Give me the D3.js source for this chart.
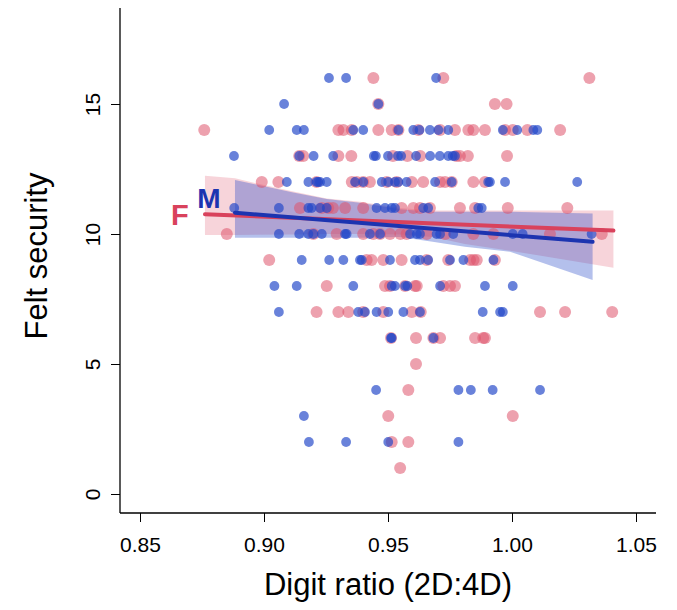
<!DOCTYPE html>
<html><head><meta charset="utf-8">
<script src="https://cdn.jsdelivr.net/npm/d3@7"></script>
<style>body{margin:0;background:#fff}svg text{font-family:"Liberation Sans",Arial,Helvetica,sans-serif}</style>
</head><body><svg id="c" width="677" height="610"></svg>
<script>
// Female (F) points: [felt security, list of digit ratios]
const femaleRows = [
 [16, [.9441,.9723,1.0312]],
 [15, [.9461,.9931,.9978]],
 [14, [.8759,.9300,.9320,.9354,.9461,.9515,.9542,.9622,.9710,.9770,.9824,.9844,.9891,.9972,1.0003,1.0062,1.0194]],
 [13, [.9142,.9158,.9300,.9352,.9520,.9578,.9630,.9775,.9790,.9822,.9980]],
 [12, [.8991,.9058,.9212,.9354,.9374,.9400,.9427,.9495,.9535,.9596,.9642,.9710,.9730,.9757,.9844,.9891]],
 [11, [.9145,.9233,.9259,.9278,.9327,.9400,.9555,.9602,.9629,.9669,.9790,.9851,.9983,1.0223]],
 [10, [.8850,.9199,.9293,.9400,.9441,.9468,.9508,.9550,.9575,.9656,.9730,.9844,.9925,1.0153,1.0362]],
 [9,  [.9021,.9414,.9434,.9481,.9555,.9656,.9743,.9831,.9845,.9858,.9931]],
 [8,  [.9253,.9488,.9508,.9569,.9609,.9616,.9723,.9750,.9770]],
 [7,  [.9212,.9300,.9340,.9400,.9481,.9596,.9632,1.0113,1.0214,1.0404]],
 [6,  [.9512,.9613,.9683,.9710,.9851,.9884,.9891]],
 [5,  [.9613]],
 [4,  [.9582]],
 [3,  [.9501,1.0003]],
 [2,  [.9515,.9582]],
 [1,  [.9549]]
];
// Male (M) points
const maleRows = [
 [16, [.9262,.9331,.9694]],
 [15, [.9081,.9461]],
 [14, [.9021,.9132,.9161,.9360,.9400,.9542,.9602,.9627,.9669,.9703,.9743,.9963,1.0021,1.0086,1.0102]],
 [13, [.8879,.9142,.9200,.9279,.9443,.9451,.9500,.9540,.9553,.9613,.9670,.9709,.9743,.9761,.9770]],
 [12, [.9092,.9179,.9212,.9218,.9226,.9253,.9367,.9400,.9475,.9501,.9528,.9542,.9575,.9690,.9757,.9904,.9911,.9972,1.0263]],
 [11, [.8880,.9060,.9179,.9192,.9226,.9253,.9454,.9488,.9515,.9528,.9642,.9662,.9864,.9878]],
 [10, [.9060,.9142,.9179,.9199,.9233,.9327,.9333,.9427,.9468,.9589,.9616,.9629,.9696,.9710,.9763,1.0003,1.0043,1.0321]],
 [9,  [.9152,.9263,.9320,.9387,.9394,.9508,.9609,.9629,.9662,.9750,.9804,.9925]],
 [8,  [.9042,.9132,.9360,.9515,.9528,.9569,.9578,.9710,.9891,1.0003]],
 [7,  [.9060,.9380,.9407,.9454,.9501,.9562,.9629,.9882,.9952,.9963]],
 [6,  [.9512,.9515,.9683]],
 [4,  [.9452,.9784,.9834,.9922,1.0113]],
 [3,  [.9161]],
 [2,  [.9181,.9331,.9501,.9784]]
];
// Fitted regression lines (endpoints) and confidence bands [x, lower, upper]
const fitF = [[.8762, 10.76], [1.0409, 10.13]];
const fitM = [[.8883, 10.82], [1.0325, 9.70]];
const bandF = [[.8762,9.96,12.24],[.8883,9.96,12.14],[.9118,9.98,11.63],[.9253,10.0,11.37],[.9387,10.0,11.24],[.9548,9.98,11.0],[.9680,9.88,10.9],[.9810,9.62,10.9],[.9992,9.36,10.9],[1.0409,8.70,10.9]];
const bandM = [[.8883,9.86,12.08],[.9118,9.86,11.60],[.9253,9.86,11.35],[.9387,9.86,11.20],[.9548,9.88,10.95],[.9680,9.70,10.86],[.9810,9.51,10.86],[.9992,9.32,10.86],[1.0325,8.23,10.79]];
const xTicks = [0.85, 0.90, 0.95, 1.00, 1.05];
const yTicks = [0, 5, 10, 15];
const xTitle = "Digit ratio (2D:4D)";
const yTitle = "Felt security";

const colF = "#DF536B", colM = "#2247C8";
const svg = d3.select("#c");
const x = d3.scaleLinear().domain([0.85, 1.05]).range([140, 636]);
const y = d3.scaleLinear().domain([0, 15]).range([494, 104]);
const xLeft = x.invert(120), xRight = x.invert(656), yBot = y.invert(513), yTop = y.invert(8);

const flat = rows => rows.flatMap(([v, xs]) => xs.map(d => [d, v]));
const fPts = flat(femaleRows), mPts = flat(maleRows);

// bands
const area = d3.area().x(d => x(d[0])).y0(d => y(d[1])).y1(d => y(d[2]));
svg.append("path").attr("d", area(bandF)).attr("fill", colF).attr("fill-opacity", 0.25);
svg.append("path").attr("d", area(bandM)).attr("fill", colM).attr("fill-opacity", 0.34);

// points
svg.append("g").selectAll("circle").data(fPts).join("circle")
  .attr("cx", d => x(d[0])).attr("cy", d => y(d[1])).attr("r", 6)
  .attr("fill", colF).attr("fill-opacity", 0.55);
svg.append("g").selectAll("circle").data(mPts).join("circle")
  .attr("cx", d => x(d[0])).attr("cy", d => y(d[1])).attr("r", 4.9)
  .attr("fill", colM).attr("fill-opacity", 0.68);

// fit lines
const line = d3.line().x(d => x(d[0])).y(d => y(d[1]));
svg.append("path").attr("d", line(fitF)).attr("stroke", "#D9425C").attr("stroke-width", 4).attr("fill", "none").attr("stroke-linecap", "round");
svg.append("path").attr("d", line(fitM)).attr("stroke", "#1C34B0").attr("stroke-width", 4).attr("fill", "none").attr("stroke-linecap", "round");

// labels F / M
svg.append("text").attr("x", x(0.8661)).attr("y", y(10.35)).attr("text-anchor", "middle")
  .attr("font-size", 29).attr("font-weight", "bold").attr("fill", "#D9425C").text("F");
svg.append("text").attr("x", x(0.8778)).attr("y", y(11.0)).attr("text-anchor", "middle")
  .attr("font-size", 28).attr("font-weight", "bold").attr("fill", "#1C34B0").text("M");

// axes
const ax = svg.append("g").attr("transform", `translate(0,${y(yBot)})`)
  .call(d3.axisBottom(x).tickValues(xTicks).tickFormat(d3.format(".2f")).tickSize(9).tickPadding(15));
ax.select(".domain").remove();
ax.selectAll("text").attr("font-size", 21).attr("fill", "#000").attr("font-family", "Liberation Sans, Arial, sans-serif");
ax.selectAll("line").attr("stroke", "#000");
svg.append("line").attr("x1", x(xLeft)).attr("x2", x(xRight)).attr("y1", y(yBot)).attr("y2", y(yBot)).attr("stroke", "#000").attr("stroke-width", 1.3);

const ay = svg.append("g").attr("transform", `translate(${x(xLeft)},0)`)
  .call(d3.axisLeft(y).tickValues(yTicks).tickSize(9).tickFormat(d3.format("d")));
ay.select(".domain").remove();
ay.selectAll("line").attr("stroke", "#000");
ay.selectAll("text").attr("font-size", 21).attr("fill", "#000").attr("font-family", "Liberation Sans, Arial, sans-serif")
  .attr("x", 0).attr("y", 0).attr("dy", 0).attr("text-anchor", "middle")
  .attr("transform", "translate(-20,0) rotate(-90)");
svg.append("line").attr("x1", x(xLeft)).attr("x2", x(xLeft)).attr("y1", y(yTop)).attr("y2", y(yBot)).attr("stroke", "#000").attr("stroke-width", 1.3);

// titles
svg.append("text").attr("x", 388).attr("y", 595).attr("text-anchor", "middle")
  .attr("font-size", 31).attr("fill", "#000").text(xTitle);
svg.append("text").attr("transform", `translate(47,256) rotate(-90)`).attr("text-anchor", "middle")
  .attr("font-size", 31).attr("fill", "#000").text(yTitle);
</script></body></html>
